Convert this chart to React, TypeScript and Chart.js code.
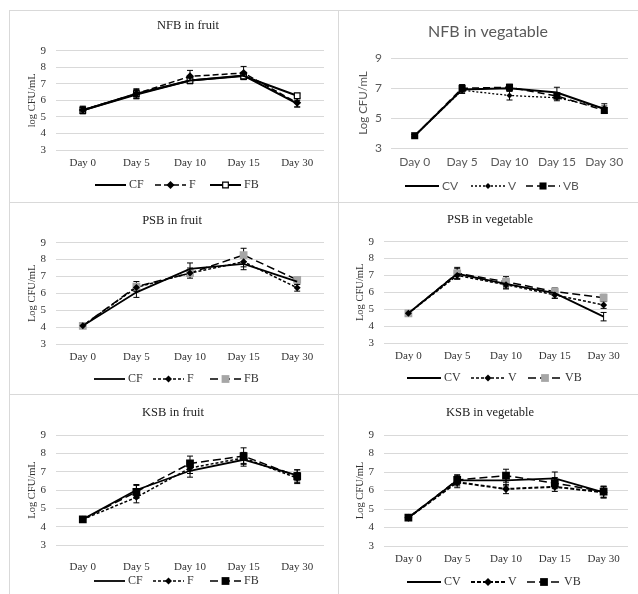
import React, { useEffect, useRef } from "react";
import { Chart, registerables } from "chart.js";

Chart.register(...registerables);

// ---------- DATA ----------
const dayLabels = ["Day 0", "Day 5", "Day 10", "Day 15", "Day 30"];
const fruitNames = ["CF", "F", "FB"];
const vegNames = ["CV", "V", "VB"];
const panelTitles = [
  "NFB in fruit",
  "NFB in vegatable",
  "PSB in fruit",
  "PSB in vegetable",
  "KSB in fruit",
  "KSB in vegetable",
];
const yTitleLower = "log CFU/mL";
const yTitleUpper = "Log CFU/mL";

// NFB in fruit
const nfbFruitCF = [5.4, 6.35, 7.2, 7.5, 5.8];
const nfbFruitF = [5.42, 6.4, 7.45, 7.65, 5.85];
const nfbFruitFB = [5.4, 6.4, 7.2, 7.47, 6.28];
const nfbFruitErrCF = [0.2, 0.25, 0.2, 0.2, 0.2];
const nfbFruitErrF = [0.23, 0.3, 0.36, 0.4, 0.25];
const nfbFruitErrFB = [0.2, 0.25, 0.15, 0.2, 0.12];

// NFB in vegetable
const nfbVegCV = [3.82, 6.9, 6.98, 6.7, 5.6];
const nfbVegV = [3.82, 6.85, 6.5, 6.35, 5.65];
const nfbVegVB = [3.82, 6.98, 7.05, 6.47, 5.5];
const nfbVegErrCV = [0.08, 0.25, 0.2, 0.35, 0.2];
const nfbVegErrV = [0.08, 0.2, 0.3, 0.2, 0.3];
const nfbVegErrVB = [0.08, 0.25, 0.2, 0.2, 0.2];

// PSB in fruit
const psbFruitCF = [4.08, 6.06, 7.45, 7.75, 6.7];
const psbFruitF = [4.08, 6.35, 7.2, 7.87, 6.33];
const psbFruitFB = [4.08, 6.4, 7.2, 8.27, 6.8];
const psbFruitErrCF = [0.08, 0.3, 0.35, 0.35, 0.15];
const psbFruitErrF = [0.08, 0.2, 0.2, 0.3, 0.2];
const psbFruitErrFB = [0.08, 0.3, 0.3, 0.4, 0.15];

// PSB in vegetable
const psbVegCV = [4.76, 7.1, 6.5, 5.95, 4.56];
const psbVegV = [4.76, 7.0, 6.45, 5.85, 5.25];
const psbVegVB = [4.76, 7.13, 6.63, 6.04, 5.68];
const psbVegErrCV = [0.08, 0.3, 0.3, 0.3, 0.25];
const psbVegErrV = [0.08, 0.2, 0.2, 0.2, 0.2];
const psbVegErrVB = [0.08, 0.35, 0.3, 0.2, 0.2];

// KSB in fruit
const ksbFruitCF = [4.4, 6.0, 7.05, 7.65, 6.8];
const ksbFruitF = [4.4, 5.6, 7.2, 7.75, 6.65];
const ksbFruitFB = [4.4, 5.9, 7.45, 7.85, 6.75];
const ksbFruitErrCF = [0.1, 0.3, 0.35, 0.35, 0.3];
const ksbFruitErrF = [0.1, 0.3, 0.3, 0.3, 0.3];
const ksbFruitErrFB = [0.1, 0.35, 0.4, 0.45, 0.35];

// KSB in vegetable
const ksbVegCV = [4.53, 6.55, 6.55, 6.65, 5.9];
const ksbVegV = [4.53, 6.45, 6.08, 6.2, 5.9];
const ksbVegVB = [4.53, 6.57, 6.8, 6.4, 5.94];
const ksbVegErrCV = [0.08, 0.3, 0.3, 0.35, 0.3];
const ksbVegErrV = [0.08, 0.3, 0.25, 0.25, 0.3];
const ksbVegErrVB = [0.08, 0.25, 0.35, 0.3, 0.3];

// ---------- STYLES / LAYOUT ----------
type PStyle = "none" | "rect" | "rectRot";
type SeriesStyle = {
  dash: number[];
  width: number;
  point: PStyle;
  radius: number;
  fill: string;
  stroke: string;
  bw: number;
};

const solid: SeriesStyle = { dash: [], width: 2, point: "none", radius: 0, fill: "#000", stroke: "#000", bw: 0 };

type PanelCfg = {
  title: string;
  names: string[];
  values: number[][];
  errors: number[][];
  styles: SeriesStyle[];
  box: { x: number; y: number; w: number; h: number };
  plot: { l: number; r: number; t: number; b: number };
  yTitle: string;
  yTitleX: number;
  xLabelY: number;
  yStep: number;
  yTickPad: number;
  titlePos: { x: number; y: number };
  legendY: number;
  legendX: number[];
  legendLen: number;
  family: string;
  textColor: string;
  titleColor: string;
  titleSize: number;
  tickSize: number;
  yTitleSize: number;
  legendSize: number;
};

const SERIF = "'Liberation Serif', 'Times New Roman', serif";
const SANS = "Lato, 'Open Sans', sans-serif";

const serifBase = {
  family: SERIF,
  textColor: "#333333",
  titleColor: "#222222",
  titleSize: 12.5,
  tickSize: 11,
  yTitleSize: 10.5,
  legendSize: 12,
  yStep: 1,
  yTickPad: 10,
  legendLen: 31,
};

const panels: PanelCfg[] = [
  {
    ...serifBase,
    title: panelTitles[0],
    names: fruitNames,
    values: [nfbFruitCF, nfbFruitF, nfbFruitFB],
    errors: [nfbFruitErrCF, nfbFruitErrF, nfbFruitErrFB],
    styles: [
      solid,
      { dash: [6, 3], width: 1.5, point: "rectRot", radius: 4, fill: "#000", stroke: "#000", bw: 0 },
      { dash: [], width: 2, point: "rect", radius: 4, fill: "#fff", stroke: "#000", bw: 1.2 },
    ],
    box: { x: 9, y: 10, w: 329, h: 192 },
    plot: { l: 56, r: 324, t: 50.7, b: 150 },
    yTitle: yTitleLower,
    yTitleX: 32,
    xLabelY: 163,
    titlePos: { x: 188, y: 26 },
    legendY: 185,
    legendX: [95, 155, 210],
  },
  {
    family: SANS,
    textColor: "#595959",
    titleColor: "#595959",
    titleSize: 16,
    tickSize: 12,
    yTitleSize: 11.5,
    legendSize: 12,
    yStep: 2,
    yTickPad: 9,
    legendLen: 34,
    title: panelTitles[1],
    names: vegNames,
    values: [nfbVegCV, nfbVegV, nfbVegVB],
    errors: [nfbVegErrCV, nfbVegErrV, nfbVegErrVB],
    styles: [
      solid,
      { dash: [2, 2], width: 1.3, point: "rectRot", radius: 3, fill: "#000", stroke: "#000", bw: 0 },
      { dash: [7, 4], width: 1.5, point: "rect", radius: 5, fill: "#000", stroke: "#000", bw: 0 },
    ],
    box: { x: 338, y: 10, w: 300, h: 192 },
    plot: { l: 391, r: 628, t: 58, b: 148 },
    yTitle: yTitleUpper,
    yTitleX: 363,
    xLabelY: 162,
    titlePos: { x: 488, y: 32 },
    legendY: 186,
    legendX: [405, 471, 526],
  },
  {
    ...serifBase,
    title: panelTitles[2],
    names: fruitNames,
    values: [psbFruitCF, psbFruitF, psbFruitFB],
    errors: [psbFruitErrCF, psbFruitErrF, psbFruitErrFB],
    styles: [
      { ...solid, width: 1.8 },
      { dash: [3, 2], width: 1.5, point: "rectRot", radius: 3.5, fill: "#000", stroke: "#000", bw: 0 },
      { dash: [8, 4], width: 1.5, point: "rect", radius: 5.5, fill: "#a6a6a6", stroke: "#a6a6a6", bw: 0 },
    ],
    box: { x: 9, y: 202, w: 329, h: 192 },
    plot: { l: 56, r: 324, t: 242.7, b: 344 },
    yTitle: yTitleUpper,
    yTitleX: 32,
    xLabelY: 357,
    titlePos: { x: 172, y: 221 },
    legendY: 379,
    legendX: [94, 153, 210],
  },
  {
    ...serifBase,
    legendLen: 34,
    title: panelTitles[3],
    names: vegNames,
    values: [psbVegCV, psbVegV, psbVegVB],
    errors: [psbVegErrCV, psbVegErrV, psbVegErrVB],
    styles: [
      { ...solid, width: 1.8 },
      { dash: [3, 2], width: 1.5, point: "rectRot", radius: 3.5, fill: "#000", stroke: "#000", bw: 0 },
      { dash: [8, 4], width: 1.5, point: "rect", radius: 5.5, fill: "#a6a6a6", stroke: "#a6a6a6", bw: 0 },
    ],
    box: { x: 338, y: 202, w: 300, h: 192 },
    plot: { l: 384, r: 628, t: 241.7, b: 343 },
    yTitle: yTitleUpper,
    yTitleX: 360,
    xLabelY: 356,
    titlePos: { x: 490, y: 220 },
    legendY: 378,
    legendX: [407, 471, 528],
  },
  {
    ...serifBase,
    title: panelTitles[4],
    names: fruitNames,
    values: [ksbFruitCF, ksbFruitF, ksbFruitFB],
    errors: [ksbFruitErrCF, ksbFruitErrF, ksbFruitErrFB],
    styles: [
      { ...solid, width: 1.8 },
      { dash: [3, 2], width: 1.5, point: "rectRot", radius: 3.5, fill: "#000", stroke: "#000", bw: 0 },
      { dash: [8, 4], width: 1.5, point: "rect", radius: 5.5, fill: "#000", stroke: "#000", bw: 0 },
    ],
    box: { x: 9, y: 394, w: 329, h: 200 },
    plot: { l: 56, r: 324, t: 435, b: 545 },
    yTitle: yTitleUpper,
    yTitleX: 32,
    xLabelY: 567,
    titlePos: { x: 173, y: 413 },
    legendY: 581,
    legendX: [94, 153, 210],
  },
  {
    ...serifBase,
    legendLen: 34,
    title: panelTitles[5],
    names: vegNames,
    values: [ksbVegCV, ksbVegV, ksbVegVB],
    errors: [ksbVegErrCV, ksbVegErrV, ksbVegErrVB],
    styles: [
      { ...solid, width: 1.8 },
      { dash: [4, 2], width: 2, point: "rectRot", radius: 4, fill: "#000", stroke: "#000", bw: 0 },
      { dash: [8, 4], width: 1.5, point: "rect", radius: 5.5, fill: "#000", stroke: "#000", bw: 0 },
    ],
    box: { x: 338, y: 394, w: 300, h: 200 },
    plot: { l: 384, r: 628, t: 435, b: 546 },
    yTitle: yTitleUpper,
    yTitleX: 360,
    xLabelY: 559,
    titlePos: { x: 490, y: 413 },
    legendY: 582,
    legendX: [407, 471, 527],
  },
];

function drawMarker(
  ctx: CanvasRenderingContext2D,
  s: SeriesStyle,
  x: number,
  y: number
) {
  if (s.point === "none" || s.radius <= 0) return;
  ctx.save();
  ctx.setLineDash([]);
  ctx.beginPath();
  const r = s.radius;
  if (s.point === "rect") {
    const h = Math.SQRT1_2 * r;
    ctx.rect(x - h, y - h, 2 * h, 2 * h);
  } else {
    ctx.moveTo(x - r, y);
    ctx.lineTo(x, y - r);
    ctx.lineTo(x + r, y);
    ctx.lineTo(x, y + r);
    ctx.closePath();
  }
  ctx.fillStyle = s.fill;
  ctx.fill();
  if (s.bw > 0) {
    ctx.strokeStyle = s.stroke;
    ctx.lineWidth = s.bw;
    ctx.stroke();
  }
  ctx.restore();
}

function Panel({ cfg }: { cfg: PanelCfg }) {
  const ref = useRef<HTMLCanvasElement>(null);
  const ox = cfg.box.x + 1;
  const oy = cfg.box.y + 1;
  const cw = cfg.box.w - 1;
  const ch = cfg.box.h - 1;

  useEffect(() => {
    const canvas = ref.current;
    if (!canvas) return;
    const plotL = cfg.plot.l - ox;
    const plotR = cfg.plot.r - ox;
    const plotT = cfg.plot.t - oy;
    const plotB = cfg.plot.b - oy;
    const yTitleLH = cfg.yTitleSize * 1.2;
    const padLeft = cfg.yTitleX - ox - yTitleLH / 2;
    const yW = plotL - padLeft;
    const xLH = cfg.tickSize * 1.2;
    const xTickPad = cfg.xLabelY - cfg.plot.b - xLH / 2;
    const xH = cfg.xLabelY - cfg.plot.b + xLH / 2 + 2;
    const padBottom = ch - plotB - xH;
    const padRight = cw - plotR;

    const decor = {
      id: "decor" + cfg.title.replace(/\s/g, ""),
      beforeDatasetsDraw(chart: any) {
        const ctx: CanvasRenderingContext2D = chart.ctx;
        const ys = chart.scales.y;
        ctx.save();
        ctx.strokeStyle = "#000";
        ctx.lineWidth = 1;
        ctx.setLineDash([]);
        cfg.values.forEach((vals, i) => {
          const meta = chart.getDatasetMeta(i);
          vals.forEach((v, j) => {
            const e = cfg.errors[i][j];
            const pt = meta.data[j];
            if (!pt || !e) return;
            const x = pt.x;
            const y1 = ys.getPixelForValue(v - e);
            const y2 = ys.getPixelForValue(v + e);
            ctx.beginPath();
            ctx.moveTo(x, y1);
            ctx.lineTo(x, y2);
            ctx.moveTo(x - 3, y1);
            ctx.lineTo(x + 3, y1);
            ctx.moveTo(x - 3, y2);
            ctx.lineTo(x + 3, y2);
            ctx.stroke();
          });
        });
        ctx.restore();
      },
      afterDraw(chart: any) {
        const ctx: CanvasRenderingContext2D = chart.ctx;
        ctx.save();
        // title
        ctx.font = `${cfg.titleSize}px ${cfg.family}`;
        ctx.fillStyle = cfg.titleColor;
        ctx.textAlign = "center";
        ctx.textBaseline = "middle";
        ctx.fillText(cfg.title, cfg.titlePos.x - ox, cfg.titlePos.y - oy);
        // legend
        const ly = cfg.legendY - oy;
        cfg.names.forEach((name, i) => {
          const s = cfg.styles[i];
          const x0 = cfg.legendX[i] - ox;
          const x1 = x0 + cfg.legendLen;
          ctx.save();
          ctx.strokeStyle = "#000";
          ctx.lineWidth = s.width;
          ctx.setLineDash(s.dash);
          ctx.beginPath();
          ctx.moveTo(x0, ly);
          ctx.lineTo(x1, ly);
          ctx.stroke();
          ctx.restore();
          drawMarker(ctx, s, (x0 + x1) / 2, ly);
          ctx.font = `${cfg.legendSize}px ${cfg.family}`;
          ctx.fillStyle = cfg.textColor;
          ctx.textAlign = "left";
          ctx.textBaseline = "middle";
          ctx.fillText(name, x1 + 3, ly);
        });
        ctx.restore();
      },
    };

    const chart = new Chart(canvas, {
      type: "line",
      data: {
        labels: dayLabels,
        datasets: cfg.values.map((vals, i) => {
          const s = cfg.styles[i];
          return {
            label: cfg.names[i],
            data: vals,
            borderColor: "#000",
            backgroundColor: s.fill,
            borderWidth: s.width,
            borderDash: s.dash,
            tension: 0,
            fill: false,
            pointStyle: s.point === "none" ? "circle" : s.point,
            pointRadius: s.point === "none" ? 0 : s.radius,
            pointHoverRadius: s.point === "none" ? 0 : s.radius,
            pointBackgroundColor: s.fill,
            pointBorderColor: s.stroke,
            pointBorderWidth: s.bw,
          } as any;
        }),
      },
      options: {
        responsive: false,
        animation: false,
        devicePixelRatio: 1,
        layout: {
          padding: { left: padLeft, right: padRight, top: plotT, bottom: padBottom },
        },
        plugins: {
          legend: { display: false },
          title: { display: false },
          tooltip: { enabled: false },
        },
        scales: {
          x: {
            type: "category",
            offset: true,
            grid: { display: false, drawTicks: false },
            border: { display: false },
            ticks: {
              autoSkip: false,
              maxRotation: 0,
              minRotation: 0,
              padding: xTickPad,
              color: cfg.textColor,
              font: { family: cfg.family, size: cfg.tickSize, lineHeight: 1.2 },
            },
            afterFit: (scale: any) => {
              scale.height = xH;
            },
          },
          y: {
            min: 3,
            max: 9,
            grid: { color: "#d9d9d9", lineWidth: 1, drawTicks: false },
            border: { display: false },
            ticks: {
              stepSize: cfg.yStep,
              padding: cfg.yTickPad,
              color: cfg.textColor,
              font: { family: cfg.family, size: cfg.tickSize, lineHeight: 1.2 },
            },
            title: {
              display: true,
              text: cfg.yTitle,
              color: cfg.textColor,
              padding: 0,
              font: { family: cfg.family, size: cfg.yTitleSize, lineHeight: 1.2 },
            },
            afterFit: (scale: any) => {
              scale.width = yW;
            },
          },
        },
      } as any,
      plugins: [decor as any],
    });
    return () => chart.destroy();
  }, []);

  return (
    <div
      style={{
        position: "absolute",
        left: cfg.box.x,
        top: cfg.box.y,
        width: cfg.box.w,
        height: cfg.box.h,
        boxSizing: "border-box",
        borderLeft: "1px solid #d9d9d9",
        borderTop: "1px solid #d9d9d9",
        background: "#fff",
      }}
    >
      <canvas
        ref={ref}
        width={cw}
        height={ch}
        style={{ display: "block", width: cw, height: ch }}
      />
    </div>
  );
}

export default function App() {
  return (
    <div
      style={{
        position: "absolute",
        left: 0,
        top: 0,
        width: 638,
        height: 594,
        background: "#fff",
        overflow: "hidden",
      }}
    >
      {panels.map((p, i) => (
        <Panel key={i} cfg={p} />
      ))}
    </div>
  );
}
